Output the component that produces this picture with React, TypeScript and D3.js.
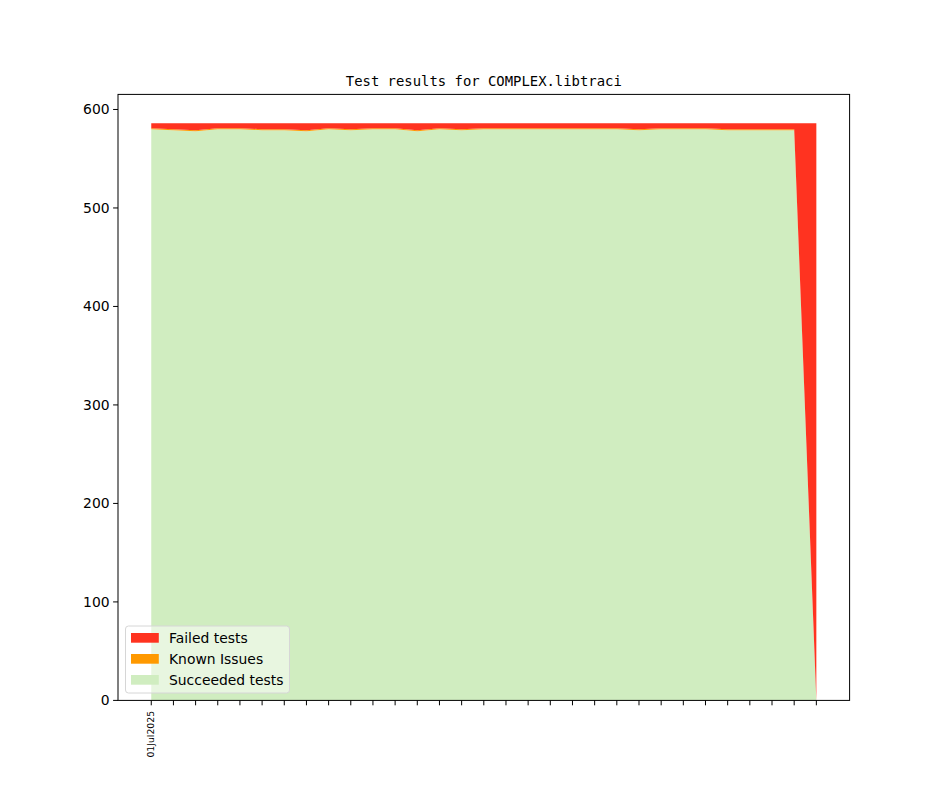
import React from "react";
import * as d3 from "d3";

const dayLabels = Array.from({ length: 31 }, (_, i) => i); // day index in July 2025
const firstLabel = "01Jul2025";
const succeeded = [580, 579, 578, 580, 580, 579, 579, 578, 580, 579, 580, 580, 578, 580, 579, 580, 580, 580, 580, 580, 580, 580, 579, 580, 580, 580, 579, 579, 579, 579, 0];
const known = [1, 1, 1, 1, 1, 1, 1, 1, 1, 1, 1, 1, 1, 1, 1, 1, 1, 1, 1, 1, 1, 1, 1, 1, 1, 1, 1, 1, 1, 1, 0];
const failed = [5, 6, 7, 5, 5, 6, 6, 7, 5, 6, 5, 5, 7, 5, 6, 5, 5, 5, 5, 5, 5, 5, 6, 5, 5, 5, 6, 6, 6, 6, 586];
const yTicks = [0, 100, 200, 300, 400, 500, 600];
const seriesNames = ["Succeeded tests", "Known Issues", "Failed tests"];
const seriesColors = ["#d0edc0", "#ff9900", "#ff3320"];

const W = 944, H = 787;
const L = 118, R = 849.6, T = 94.4, B = 700.4;

export default function App() {
  const rows = dayLabels.map((d, i) => ({ d, s: succeeded[i], k: known[i], f: failed[i] }));
  const stack = d3.stack<any>().keys(["s", "k", "f"])(rows);
  const maxTotal = d3.max(rows, (r) => r.s + r.k + r.f) as number;
  const n = dayLabels.length - 1;
  const x = d3.scaleLinear().domain([-0.05 * n, n * 1.05]).range([L, R]);
  const y = d3.scaleLinear().domain([0, maxTotal * 1.05]).range([B, T]);
  const area = d3.area<any>().x((p: any) => x(p.data.d)).y0((p: any) => y(p[0])).y1((p: any) => y(p[1]));
  const fs = 13.9;
  const legendItems = [2, 1, 0];
  return (
    <svg width={W} height={H} style={{ display: "block", position: "absolute", left: 0, top: 0 }} fontFamily="DejaVu Sans">
      <rect width={W} height={H} fill="white" />
      {stack.map((s, i) => (
        <path key={i} d={area(s) as string} fill={seriesColors[i]} stroke="none" />
      ))}
      <rect x={L} y={T} width={R - L} height={B - T} fill="none" stroke="black" strokeWidth={1} />
      {yTicks.map((t) => (
        <g key={t}>
          <line x1={L - 4.9} x2={L} y1={y(t)} y2={y(t)} stroke="black" />
          <text x={L - 8.4} y={y(t)} dy="0.35em" textAnchor="end" fontSize={fs}>{t}</text>
        </g>
      ))}
      {dayLabels.map((d) => (
        <line key={d} x1={x(d)} x2={x(d)} y1={B} y2={B + 4.9} stroke="black" />
      ))}
      <text transform={`translate(${x(0) - 1},${B + 10.5}) rotate(-90)`} textAnchor="end" dy="0.35em" fontSize={9.3}>{firstLabel}</text>
      <text x={(L + R) / 2} y={T - 8.3} textAnchor="middle" fontSize={fs} fontFamily="DejaVu Sans Mono">Test results for COMPLEX.libtraci</text>
      <g>
        <rect x={125.5} y={626} width={164} height={67} rx={3} fill="white" fillOpacity={0.5} stroke="#d6d6d6" />
        {legendItems.map((si, j) => (
          <g key={si}>
            <rect x={131} y={633 + j * 21} width={27.8} height={9.7} fill={seriesColors[si]} />
            <text x={169} y={638 + j * 21} dy="0.35em" fontSize={fs}>{seriesNames[si]}</text>
          </g>
        ))}
      </g>
    </svg>
  );
}
